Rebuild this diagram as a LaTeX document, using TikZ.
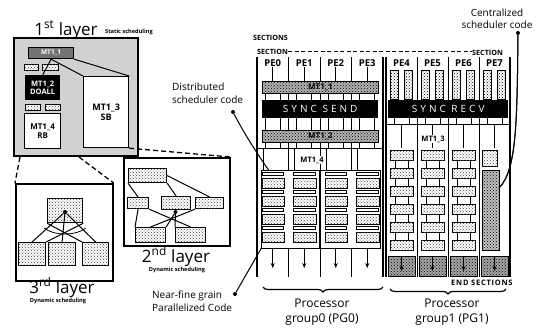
\documentclass[tikz,border=0pt]{standalone}
\usepackage{fontspec}
\setmainfont{Open Sans}
\usetikzlibrary{patterns,decorations.pathreplacing,arrows.meta}
\begin{document}
\begin{tikzpicture}[x=1pt,y=-1pt,
  rb/.style={draw, line width=1.2pt, fill=white, inner sep=0pt, anchor=north west},
  gl/.style={draw, line width=1pt, fill=white, inner sep=0pt, anchor=north west, postaction={pattern=crosshatch dots, pattern color=black!75}},
  hatchbar/.style={draw, line width=1pt, fill=black!30, inner sep=0pt, anchor=north west, postaction={pattern=crosshatch dots}, font=\bfseries\fontsize{8}{8}\selectfont},
  syncbar/.style={fill=black, text=white, inner sep=0pt, anchor=north west, font=\fontsize{10}{10}\selectfont\addfontfeature{LetterSpace=30}},
  big/.style={font=\fontsize{17}{18}\selectfont, inner sep=0pt, anchor=base},
  tiny/.style={font=\bfseries\fontsize{5.6}{6}\selectfont, inner sep=0pt, anchor=base},
  capl/.style={font=\bfseries\fontsize{7.2}{8}\selectfont, inner sep=0pt, anchor=base west},
  call/.style={font=\fontsize{10}{12}\selectfont, inner sep=0pt, anchor=base west},
  grp/.style={font=\fontsize{12}{14}\selectfont, inner sep=0pt, anchor=base},
  pe/.style={font=\bfseries\fontsize{9.5}{10}\selectfont, inner sep=0pt},
  dsh/.style={dashed, line width=1.3pt, dash pattern=on 5pt off 3pt},
  lnk/.style={line width=1pt},
  dot/.style={circle, fill=black, inner sep=0pt, minimum size=4pt},
  arr/.style={line width=0.9pt, -{Stealth[length=5pt,width=4pt]}},
  sep/.style={line width=0.9pt},
  frm/.style={line width=1.6pt}
]
\useasboundingbox (0,0) rectangle (549,330);

% ---------------- 1st layer ----------------
\node[big] (t1) at (66,35) {1\textsuperscript{st} layer};
\node[tiny, anchor=base west] (t1s) at (105,33) {Static scheduling};
\node[draw, line width=1.6pt, fill=black!18, inner sep=0pt, anchor=north west, minimum width=124pt, minimum height=118pt] (L1) at (13,37) {};
\node[draw, line width=1.2pt, fill=black!55, text=white, inner sep=0pt, anchor=north west, minimum width=45pt, minimum height=11pt, font=\bfseries\fontsize{6.5}{7}\selectfont] (m11) at (28,47) {MT1\_1};
\node[gl, line width=0.6pt, minimum width=14pt, minimum height=6pt] (s1) at (24,64) {};
\node[gl, line width=0.6pt, minimum width=16pt, minimum height=6pt] (s2) at (42,64) {};
\node[fill=black, text=white, inner sep=0pt, anchor=north west, minimum width=35pt, minimum height=25pt, align=center, font=\bfseries\fontsize{7.5}{8.5}\selectfont] (m12) at (25,75) {MT1\_2\\DOALL};
\node[gl, line width=0.6pt, minimum width=15pt, minimum height=6pt] (s3) at (25,104) {};
\node[gl, line width=0.6pt, minimum width=15pt, minimum height=6pt] (s4) at (45,104) {};
\node[rb, minimum width=36pt, minimum height=35pt, align=center, font=\bfseries\fontsize{8}{9}\selectfont] (m14) at (24,113) {MT1\_4\\RB};
\node[rb, minimum width=45pt, minimum height=71pt, align=center, font=\bfseries\fontsize{9}{10}\selectfont] (m13) at (83,76) {MT1\_3\\SB};
\draw[lnk] (m11.south) -- (m12.north);
\draw[lnk] (m11.south) -- (m13.north west);
\draw[lnk] (m11.south east) -- (m13.north east);

% ---------------- 3rd layer ----------------
\node[draw, line width=1.6pt, fill=white, inner sep=0pt, anchor=north west, minimum width=97pt, minimum height=97pt] (L3) at (15,183) {};
\node[gl, line width=1.2pt, minimum width=35pt, minimum height=24pt] (t3) at (47,198) {};
\node[gl, line width=1.2pt, minimum width=27pt, minimum height=23pt] (l31) at (18,242) {};
\node[gl, line width=1.2pt, minimum width=27pt, minimum height=23pt] (l32) at (48,242) {};
\node[gl, line width=1.2pt, minimum width=26pt, minimum height=23pt] (l33) at (82,242) {};
\node[dot] (d3) at (65,212) {};
\draw[lnk] (d3) -- (l31.north);
\draw[lnk] (d3) -- (l32.north);
\draw[lnk] (d3) -- (l33.north);
\draw[lnk] (t3.south west) -- (l33.north west);
\draw[lnk] (t3.south east) -- (l31.north east);
\draw[line width=0.8pt] (44,228) .. controls (54,236) and (76,236) .. (86,228);
\node[big] (t3l) at (62,293) {3\textsuperscript{rd} layer};
\node[tiny] (t3s) at (58,302) {Dynamic scheduling};

% dashed zoom lines
\coordinate (z1) at (20,157);
\coordinate (z2) at (79,157);
\draw[dsh] (z1) -- (L3.north west);
\draw[dsh] (z2) -- (L3.north east);

% ---------------- 2nd layer ----------------
\node[draw, line width=1.6pt, fill=white, inner sep=0pt, anchor=north west, minimum width=106pt, minimum height=88pt] (L2) at (123,157) {};
\draw[dsh] (m13.south east) -- (L2.north east);
\node[gl, line width=1.2pt, minimum width=38pt, minimum height=14pt] (t2) at (128,168) {};
\node[gl, line width=1.2pt, minimum width=21pt, minimum height=11pt] (m21) at (127,197) {};
\node[gl, line width=1.2pt, minimum width=29pt, minimum height=13pt] (m22) at (161,196) {};
\node[gl, line width=1.2pt, minimum width=28pt, minimum height=11pt] (m23) at (195,197) {};
\node[gl, line width=1.2pt, minimum width=30pt, minimum height=15pt] (b21) at (135,227) {};
\node[gl, line width=1.2pt, minimum width=30pt, minimum height=15pt] (b22) at (175,227) {};
\node[dot] (d2) at (175.5,212) {};
\draw[lnk] (t2.south west) -- (m21.north);
\draw[lnk] (t2.south east) -- (m22.north);
\draw[lnk] (t2.east) -- (m23.north);
\draw[lnk] (m21.south) -- (b21.north west);
\draw[lnk] (m21.south east) -- (b22.north);
\draw[lnk] (m23.south west) -- (b21.north);
\draw[lnk] (d2) -- (b21.north east);
\draw[lnk] (d2) -- (b22.north west);
\node[big] (t2l) at (176,262) {2\textsuperscript{nd} layer};
\node[tiny] (t2s) at (177,271) {Dynamic scheduling};

% ---------------- callouts ----------------
\node[call] (dist1) at (172,90) {Distributed};
\node[call] (dist2) at (172,103) {scheduler code};
\node[dot] (dd) at (233,112) {};
\coordinate (de) at (270,172);
\draw[lnk] (dd) .. controls (245,135) and (258,155) .. (de);

\node[call] (nf1) at (152,298) {Near-fine grain};
\node[call] (nf2) at (152,311) {Parallelized Code};
\node[dot] (nd) at (235,294) {};
\coordinate (ne) at (262,247);
\draw[lnk] (nd) -- (ne);

\node[call, anchor=base] (cc1) at (497,16) {Centralized};
\node[call, anchor=base] (cc2) at (497,28) {scheduler code};
\node[dot] (cd) at (518,33) {};
\coordinate (ce) at (499,188);
\draw[lnk] (cd) .. controls (517,120) and (517,170) .. (ce);

% ---------------- SECTIONS ----------------
\node[capl] (secs) at (253,40) {SECTIONS};
\node[capl] (sec1) at (257,54) {SECTION};
\node[capl] (sec2) at (472,55) {SECTION};
\draw[dashed, line width=1pt, dash pattern=on 4pt off 2.5pt] (sec1.east |- 0,51) -- (sec2.west |- 0,51);

% ---------------- PG0 ----------------
\foreach \i in {0,...,4}{
  \pgfmathsetmacro\X{257+31.5*\i}
  \ifnum\i=0 \draw[frm] (\X,57) -- (\X,277); \else\ifnum\i=4 \draw[frm] (\X,57) -- (\X,277); \else \draw[sep] (\X,57) -- (\X,277); \fi\fi
}
\foreach \i in {0,...,3}{
  \pgfmathsetmacro\L{257+31.5*\i}
  \pgfmathsetmacro\C{\L+15.75}
  \node[pe] (pe\i) at (\C,63) {PE\i};
  \draw[sep] (pe\i.south) -- (\C,81);
  \draw[sep] (\L+8,93) -- (\L+8,100);   \draw[sep] (\L+23,93) -- (\L+23,100);
  \draw[sep] (\L+8,118) -- (\L+8,130);  \draw[sep] (\L+23,118) -- (\L+23,130);
  \draw[sep] (\L+8,142) -- (\L+8,148);  \draw[sep] (\L+23,142) -- (\L+23,148);
  \draw[sep] (\L+6,148) -- (\L+6,170);
}
\draw[sep] (257,148) -- (383,148);
\node[hatchbar, minimum width=116pt, minimum height=12pt] (mt11) at (262,81) {MT1\_1};
\node[syncbar, minimum width=116pt, minimum height=18pt] (ssend) at (262,100) {SYNC SEND};
\node[hatchbar, minimum width=116pt, minimum height=12pt] (mt12) at (262,130) {MT1\_2};
\node[fill=white, inner sep=1pt, font=\bfseries\fontsize{7.5}{8}\selectfont] (mt14) at (312,160) {MT1\_4};
\node[draw, line width=1.3pt, fill=white, inner sep=0pt, anchor=north west, minimum width=119pt, minimum height=78pt] (g0) at (261,170) {};
\draw[line width=1.3pt] (320,170) -- (320,248);
\foreach \i in {0,...,3}{
  \pgfmathsetmacro\L{257+31.5*\i}
  \foreach \r/\t in {0/178,1/196,2/214,3/232}{
    \draw[line width=0.8pt, fill=white] (\L+5,\t-6) rectangle (\L+26.5,\t-3);
    \node[gl, minimum width=22.5pt, minimum height=10pt] (g\i-\r) at (\L+4.5,\t) {};
  }
  \coordinate (a\i) at (\L+15.75,248);
  \coordinate (b\i) at (\L+15.75,268);
  \draw[arr] (a\i) -- (b\i);
}
\draw[decorate, decoration={brace, mirror, amplitude=5pt}, line width=1.2pt] (263,287) -- (383,287);
\node[grp] (pg0a) at (322,307) {Processor};
\node[grp] (pg0b) at (322,322) {group0 (PG0)};

% ---------------- PG1 ----------------
\foreach \i in {0,...,4}{
  \pgfmathsetmacro\X{386+31*\i}
  \ifnum\i=0 \draw[frm] (\X,57) -- (\X,277); \else\ifnum\i=4 \draw[frm] (\X,57) -- (\X,277); \else \draw[sep] (\X,57) -- (\X,277); \fi\fi
}
\foreach \i/\n in {0/4,1/5,2/6,3/7}{
  \pgfmathsetmacro\L{386+31*\i}
  \pgfmathsetmacro\C{\L+15.5}
  \node[pe] (pe\n) at (\C,63) {PE\n};
  \draw[line width=0.8pt, fill=white, postaction={pattern=crosshatch dots}] (\L+4,70) rectangle (\L+12,99);
  \draw[line width=0.8pt, fill=white, postaction={pattern=crosshatch dots}] (\L+18,70) rectangle (\L+26,99);
  \draw[sep] (\L+8,118) -- (\L+8,124);  \draw[sep] (\L+23,118) -- (\L+23,124);
  \draw[sep] (\C,124) -- (\C,148);
  \draw[line width=0.8pt, fill=black!35, postaction={pattern=crosshatch dots}] (\L+2,256) rectangle (\L+29,276);
  \coordinate (c\i) at (\C,256);
  \coordinate (e\i) at (\C,271);
  \draw[arr] (c\i) -- (e\i);
}
\draw[sep] (386,124) -- (510,124);
\node[syncbar, minimum width=120pt, minimum height=18pt] (srecv) at (388,100) {SYNC RECV};
\node[fill=white, inner sep=1pt, font=\bfseries\fontsize{7.5}{8}\selectfont] (mt13) at (433,139) {MT1\_3};
\foreach \i in {0,1,2}{
  \pgfmathsetmacro\L{386+31*\i}
  \foreach \r/\t in {0/150,1/168,2/186,3/204,4/222,5/240}{
    \node[gl, minimum width=23pt, minimum height=10pt] (h\i-\r) at (\L+4,\t) {};
  }
  \foreach \t in {160,178,196,214,232}{
    \draw[line width=1pt] (\L+9,\t) -- (\L+9,\t+8);
    \draw[line width=1pt] (\L+22,\t) -- (\L+22,\t+8);
  }
}
\node[gl, minimum width=15pt, minimum height=16pt] (p7a) at (482,150) {};
\node[draw, line width=1pt, fill=black!25, inner sep=0pt, anchor=north west, minimum width=17pt, minimum height=80pt, postaction={pattern=crosshatch dots}] (p7b) at (482,170) {};
\draw[lnk] (cd) .. controls (517,120) and (517,170) .. (ce);
\draw[decorate, decoration={brace, mirror, amplitude=5pt}, line width=1.2pt] (390,289) -- (506,289);
\node[capl, font=\bfseries\fontsize{7.5}{8}\selectfont\addfontfeature{LetterSpace=10}, fill=white, inner sep=1pt] (ends) at (450,285) {END SECTIONS};
\node[grp] (pg1a) at (452,307) {Processor};
\node[grp] (pg1b) at (452,322) {group1 (PG1)};
\end{tikzpicture}
\end{document}
